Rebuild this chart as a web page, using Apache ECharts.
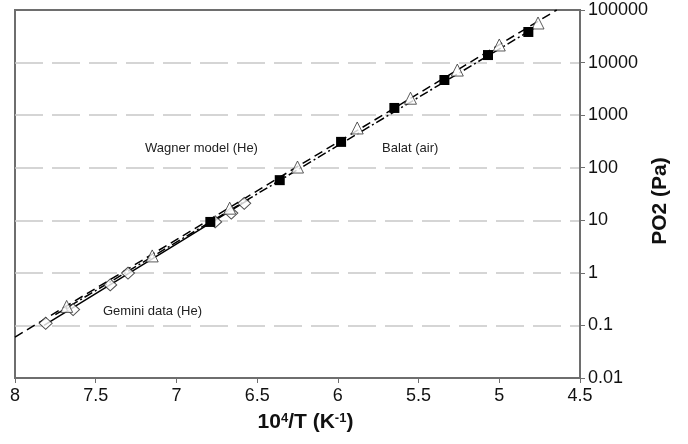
<!DOCTYPE html>
<html>
<head>
<meta charset="utf-8">
<script src="https://cdn.jsdelivr.net/npm/echarts@6/dist/echarts.min.js"></script>
<style>
  html, body { margin: 0; padding: 0; background: #fff; }
  #chart { width: 688px; height: 444px; }
</style>
</head>
<body>
<div id="chart"></div>
<script>
// x = 10^4/T (K^-1), y = PO2 (Pa)
const xTicks = [8, 7.5, 7, 6.5, 6, 5.5, 5, 4.5];
const yTickLabels = ['0.01', '0.1', '1', '10', '100', '1000', '10000', '100000'];

// hollow diamonds - Gemini data (He)
const geminiData = [[7.81, 0.11], [7.64, 0.2], [7.41, 0.59], [7.30, 0.99], [6.76, 9.3], [6.66, 13.7], [6.58, 21]];
// hollow triangles
const triangleData = [[7.68, 0.23], [7.15, 2.1], [6.67, 17], [6.25, 103], [5.88, 570], [5.55, 2100], [5.26, 7200], [5.00, 21600], [4.76, 56600]];
// filled squares - Balat (air)
const balatData = [[6.79, 9.3], [6.36, 58], [5.98, 310], [5.65, 1370], [5.34, 4660], [5.07, 13900], [4.82, 38200]];

// fitted lines
const solidLine = [[7.82, 0.1], [6.55, 25]];
const dashLine = [[8, 0.06], [4.644, 100000]];
const dashDotLine = [[7.75, 0.16], [4.78, 46000]];

const font = "'Liberation Sans', Arial, sans-serif";
const axisGray = '#6e6e6e';

const chart = echarts.init(document.getElementById('chart'));

const option = {
  backgroundColor: '#fff',
  animation: false,
  textStyle: { fontFamily: font },
  grid: {
    left: 15,
    right: 108,
    top: 10,
    bottom: 66,
    show: true,
    borderColor: axisGray,
    borderWidth: 2,
  },
  xAxis: {
    type: 'value',
    inverse: true,
    min: 4.5,
    max: 8,
    interval: 0.5,
    position: 'bottom',
    name: '10{sup|4}/T (K{sup|-1})',
    nameLocation: 'middle',
    nameGap: 34,
    nameTextStyle: {
      fontSize: 21,
      fontWeight: 'bold',
      color: '#111',
      fontFamily: font,
      padding: [0, 0, 0, 16],
      rich: {
        sup: { fontSize: 13, fontWeight: 'bold', color: '#111', verticalAlign: 'top', padding: [0, 0, 8, 0] },
      },
    },
    axisLine: { show: true, lineStyle: { color: axisGray, width: 2 } },
    axisTick: { show: true, inside: false, length: 5, lineStyle: { color: axisGray, width: 1 } },
    axisLabel: {
      fontSize: 18,
      color: '#111',
      margin: 9,
      formatter: (v) => String(xTicks.find((t) => Math.abs(t - v) < 1e-6) ?? v),
    },
    splitLine: { show: false },
  },
  yAxis: {
    type: 'log',
    logBase: 10,
    min: 0.01,
    max: 100000,
    position: 'right',
    name: 'PO2 (Pa)',
    nameLocation: 'middle',
    nameRotate: 90,
    nameGap: 70,
    nameMoveOverlap: false,
    nameTextStyle: { fontSize: 21, fontWeight: 'bold', color: '#111', fontFamily: font, padding: [0, 14, 0, 0] },
    axisLine: { show: true, lineStyle: { color: axisGray, width: 2 } },
    axisTick: { show: true, inside: false, length: 5, lineStyle: { color: axisGray, width: 1 } },
    axisLabel: {
      fontSize: 18,
      color: '#111',
      margin: 8,
      formatter: (v) => yTickLabels[Math.round(Math.log10(v)) + 2] || '',
    },
    splitLine: {
      show: true,
      showMinLine: false,
      showMaxLine: false,
      lineStyle: { color: '#c8c8c8', width: 1.5, type: [28, 9] },
    },
  },
  graphic: [
    { type: 'text', left: 145, top: 142, style: { text: 'Wagner model (He)', fontSize: 13, fill: '#222', fontFamily: font } },
    { type: 'text', left: 382, top: 142, style: { text: 'Balat (air)', fontSize: 13, fill: '#222', fontFamily: font } },
    { type: 'text', left: 103, top: 305, style: { text: 'Gemini data (He)', fontSize: 13, fill: '#222', fontFamily: font } },
  ],
  series: [
    {
      name: 'Wagner model fit',
      type: 'line',
      data: solidLine,
      symbol: 'none',
      lineStyle: { color: '#000', width: 1.5, type: 'solid' },
      z: 2,
    },
    {
      name: 'dashed fit',
      type: 'line',
      data: dashLine,
      symbol: 'none',
      lineStyle: { color: '#000', width: 1.5, type: [9, 5] },
      z: 2,
    },
    {
      name: 'dash-dot fit',
      type: 'line',
      data: dashDotLine,
      symbol: 'none',
      lineStyle: { color: '#000', width: 1.5, type: [9, 3, 2, 3] },
      z: 2,
    },
    {
      name: 'Gemini data (He)',
      type: 'scatter',
      data: geminiData,
      symbol: 'diamond',
      symbolSize: [13, 12],
      itemStyle: { color: '#fff', borderColor: '#222', borderWidth: 1 },
      z: 4,
    },
    {
      name: 'Wagner model (He)',
      type: 'scatter',
      data: triangleData,
      symbol: 'triangle',
      symbolSize: 12,
      itemStyle: { color: '#fff', borderColor: '#333', borderWidth: 1 },
      z: 4,
    },
    {
      name: 'Balat (air)',
      type: 'scatter',
      data: balatData,
      symbol: 'rect',
      symbolSize: 10,
      itemStyle: { color: '#000', borderWidth: 0, opacity: 1 },
      z: 5,
    },
  ],
};

chart.setOption(option);
</script>
</body>
</html>
